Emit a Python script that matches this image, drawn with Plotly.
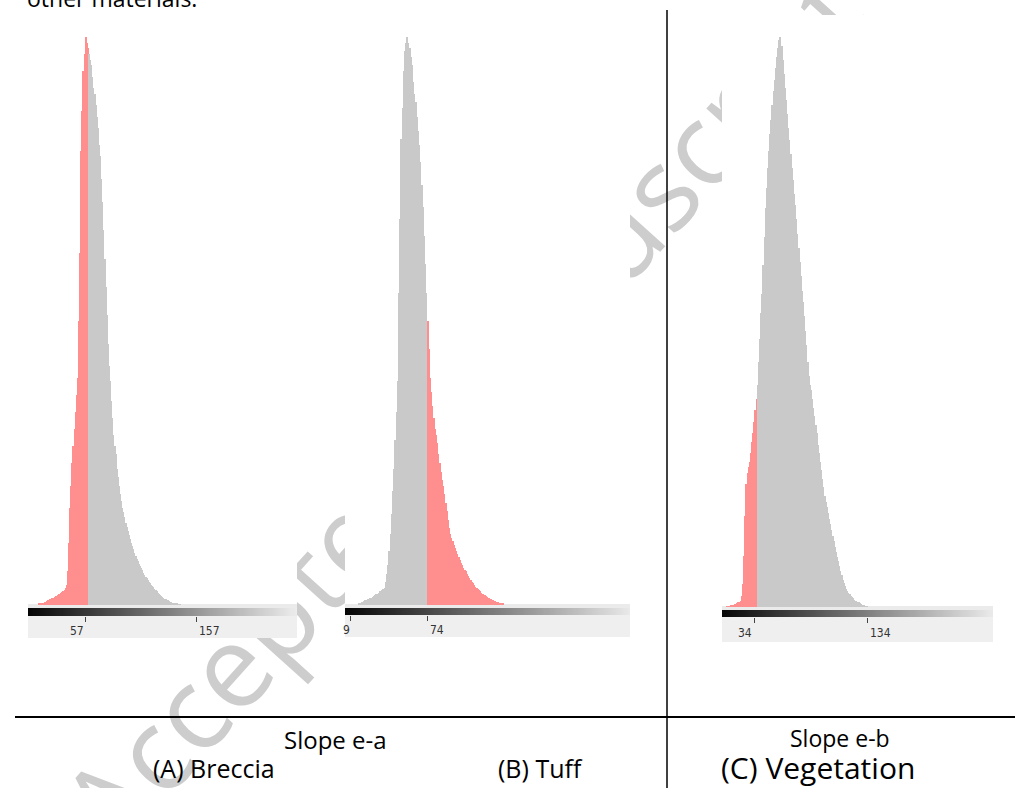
import plotly.graph_objects as go

# ---------------- data ----------------
# Histogram bins (grey level) and normalised heights (% of peak)
breccia_start = 15
breccia_heights = [
    0.2, 0.2, 0.3, 0.3, 0.4, 0.5, 0.6, 0.7, 0.8, 0.9,
    1.0, 1.1, 1.2, 1.3, 1.4, 1.5, 1.6, 1.7, 1.9, 2.0,
    2.1, 2.3, 2.4, 2.6, 3.0, 3.5, 6, 11, 17, 21,
    25, 28, 31, 34, 37, 40, 50, 62, 80, 87,
    94, 97, 100, 99, 98, 97, 96, 95, 93, 91,
    90, 88, 86, 84, 81, 79, 75, 71, 66, 61,
    56, 51, 46, 42, 39.5, 36, 33, 30, 28, 26.5,
    24, 22.5, 21, 19.5, 18.3, 17, 16.3, 15.5, 14.5, 13.8,
    13, 12.3, 11.7, 11, 10.4, 9.8, 9.2, 8.6, 8.1, 7.7,
    7.3, 6.9, 6.5, 6.1, 5.7, 5.3, 5.0, 4.7, 4.4, 4.1,
    3.8, 3.5, 3.3, 3.1, 2.8, 2.6, 2.4, 2.2, 2.0, 1.8,
    1.6, 1.4, 1.3, 1.1, 1.0, 0.9, 0.8, 0.7, 0.6, 0.5,
    0.4, 0.35, 0.3, 0.25, 0.2, 0.15, 0.1, 0.1,
]
breccia_red_max = 59          # bins <= this are highlighted
breccia_ticks = [57, 157]

tuff_start = 17
tuff_heights = [
    0.3, 0.4, 0.5, 0.6, 0.7, 0.8, 0.9, 1.0, 1.1, 1.2,
    1.3, 1.4, 1.6, 1.7, 1.9, 2.0, 2.2, 2.4, 2.5, 2.6,
    2.8, 3.0, 4.0, 5.5, 7, 9.5, 12.5, 16, 20, 24,
    29, 34, 39.5, 55, 68, 82, 87.5, 94, 97.5, 99,
    100, 99, 98, 96.5, 95, 92, 90, 88.5, 86, 83.5,
    81, 78, 74, 70, 65, 60, 55, 50, 45, 40,
    37.5, 35, 33, 31, 30, 28.5, 26.5, 25, 23.5, 22,
    21, 19.5, 18, 16.5, 15, 13.5, 12.5, 11.8, 11.2, 10.6,
    10, 9.5, 9, 8.4, 7.9, 7.4, 7, 6.6, 6.2, 5.9,
    5.5, 5.1, 4.8, 4.4, 4.1, 3.8, 3.5, 3.2, 3.0, 2.8,
    2.6, 2.4, 2.2, 2.0, 1.8, 1.7, 1.5, 1.4, 1.2, 1.1,
    1.0, 0.9, 0.8, 0.7, 0.6, 0.5, 0.45, 0.4, 0.3, 0.25, 0.2,
]
tuff_red_min = 74             # bins >= this are highlighted
tuff_ticks = [9, 74]

veg_start = 10
veg_heights = [
    0.1, 0.1, 0.15, 0.2, 0.25, 0.3, 0.4, 0.5, 0.6, 0.7,
    0.8, 0.9, 1.0, 2.0, 4.0, 9, 16, 21.5, 23.5, 24.5,
    25.5, 27, 29, 30.5, 32.5, 34.5, 36.5, 39, 43, 47,
    51.5, 55, 60, 65, 70, 73.5, 77, 80, 83, 85.5,
    88, 90.5, 92.5, 94.5, 96.5, 98, 99.5, 100, 98.5, 96,
    93.5, 91, 89, 86.5, 84, 82, 79.5, 77, 75, 72.5,
    70.5, 68, 65.5, 63, 60.5, 58, 55.5, 53.5, 51, 48.5,
    46, 43, 40.5, 39, 38, 36.5, 35, 33.5, 32, 30.5,
    28.5, 27, 25.5, 24, 22.5, 21, 19.5, 18.5, 17.5, 16.5,
    15.5, 14.5, 13.5, 12.5, 11.5, 10.5, 9.6, 8.8, 8, 7.2,
    6.4, 5.6, 4.8, 4.2, 3.7, 3.2, 2.8, 2.5, 2.2, 1.9,
    1.7, 1.5, 1.3, 1.1, 1.0, 0.9, 0.8, 0.7, 0.5, 0.4,
    0.3, 0.2, 0.15, 0.1,
]
veg_red_max = 36
veg_ticks = [34, 134]

gradient_levels = list(range(256))

header_text = "other materials."
slope_labels = ["Slope e-a", "Slope e-b"]
panel_labels = ["(A) Breccia", "(B) Tuff", "(C) Vegetation"]
watermark_text = "Accepted Manuscript"

# ---------------- styling / layout ----------------
W, H = 1015, 788
RED = "#ff8e8e"
GREY = "#c9c9c9"
FONT = "Open Sans, Lato, DejaVu Sans, sans-serif"
NARROW = "Liberation Sans Narrow, DejaVu Sans Condensed, Roboto Condensed, sans-serif"


def X(p):
    return p / W


def Y(p):
    return 1 - p / H


def bins(start, heights):
    return list(range(start, start + len(heights)))


b_bins = bins(breccia_start, breccia_heights)
t_bins = bins(tuff_start, tuff_heights)
v_bins = bins(veg_start, veg_heights)

panels = [
    dict(bins=b_bins, h=breccia_heights,
         colors=[RED if b <= breccia_red_max else GREY for b in b_bins],
         ticks=breccia_ticks, x0=28, x1=297, top=37, bot=605, g0=608, g1=616,
         band=638, rng=[5.0, 247.4], lab_y=631, lab_dx=[0, 0]),
    dict(bins=t_bins, h=tuff_heights,
         colors=[RED if b >= tuff_red_min else GREY for b in t_bins],
         ticks=tuff_ticks, x0=345, x1=630, top=37, bot=605, g0=608, g1=615,
         band=637, rng=[4.8, 243.3], lab_y=630, lab_dx=[2, 0]),
    dict(bins=v_bins, h=veg_heights,
         colors=[RED if b <= veg_red_max else GREY for b in v_bins],
         ticks=veg_ticks, x0=722, x1=993, top=37, bot=607, g0=610, g1=617,
         band=642, rng=[5.4, 244.6], lab_y=633, lab_dx=[0, 0]),
]

fig = go.Figure()
layout = dict(
    width=W, height=H, margin=dict(l=0, r=0, t=0, b=0),
    paper_bgcolor="white", plot_bgcolor="rgba(0,0,0,0)",
    showlegend=False, bargap=0,
)
shapes = []
annotations = []

# watermark (under the histogram images)
shapes.append(dict(
    type="rect", xref="paper", yref="paper",
    x0=X(416), x1=X(516), y0=Y(463), y1=Y(363),
    line=dict(width=0), fillcolor="rgba(0,0,0,0)", layer="below",
    label=dict(text=watermark_text, textangle=-48, textposition="middle center",
               font=dict(family=FONT, size=115, color="#cdcdcd")),
))
# opaque image areas of the three histogram pictures
for p in panels:
    shapes.append(dict(type="rect", xref="paper", yref="paper", layer="below",
                       x0=X(p["x0"]), x1=X(p["x1"]), y0=Y(p["band"]), y1=Y(15),
                       line=dict(width=0), fillcolor="white"))

for i, p in enumerate(panels):
    ib, ig = 2 * i + 1, 2 * i + 2
    xb = "x" if ib == 1 else f"x{ib}"
    yb = "y" if ib == 1 else f"y{ib}"
    xg, yg = f"x{ig}", f"y{ig}"
    kb = "" if ib == 1 else str(ib)

    fig.add_trace(go.Bar(x=p["bins"], y=p["h"], marker=dict(color=p["colors"], line=dict(width=0)),
                         width=1.0, xaxis=xb, yaxis=yb, hoverinfo="skip"))
    fig.add_trace(go.Heatmap(x=gradient_levels, y=[0], z=[gradient_levels], zmin=0, zmax=255,
                             colorscale=[[0, "#000000"], [1, "#f4f4f4"]], showscale=False,
                             xaxis=xg, yaxis=yg, hoverinfo="skip"))

    layout[f"xaxis{kb}"] = dict(domain=[X(p["x0"]), X(p["x1"])], range=p["rng"], visible=False,
                                anchor=yb, fixedrange=True)
    layout[f"yaxis{kb}"] = dict(domain=[Y(p["bot"]), Y(p["top"])], range=[0, 100], visible=False,
                                anchor=xb, fixedrange=True)
    layout[f"xaxis{ig}"] = dict(domain=[X(p["x0"]), X(p["x1"])], range=p["rng"], anchor=yg,
                                showgrid=False, zeroline=False, showline=False,
                                ticks="outside", ticklen=5, tickwidth=1, tickcolor="#444",
                                tickvals=p["ticks"], showticklabels=False, fixedrange=True)
    layout[f"yaxis{ig}"] = dict(domain=[Y(p["g1"]), Y(p["g0"])], range=[-0.5, 0.5], visible=False,
                                anchor=xg, fixedrange=True)

    # light strip above the gradient and grey label band below it
    shapes.append(dict(type="rect", xref="paper", yref="paper", layer="below",
                       x0=X(p["x0"]), x1=X(p["x1"]), y0=Y(p["g0"]), y1=Y(p["bot"] - 1),
                       line=dict(width=0), fillcolor="#ebebeb"))
    shapes.append(dict(type="rect", xref="paper", yref="paper", layer="below",
                       x0=X(p["x0"]), x1=X(p["x1"]), y0=Y(p["band"]), y1=Y(p["g1"]),
                       line=dict(width=0), fillcolor="#efefef"))

    for j, t in enumerate(p["ticks"]):
        annotations.append(dict(
            text=str(t), x=t, xref=xg, y=Y(p["lab_y"]), yref="paper",
            xanchor="right" if j == 0 else "left", yanchor="middle",
            xshift=p["lab_dx"][j], showarrow=False,
            font=dict(family=NARROW, size=12, color="#333333"),
        ))

# table lines
shapes.append(dict(type="line", xref="paper", yref="paper", x0=X(667), x1=X(667),
                   y0=Y(10), y1=Y(788), line=dict(color="black", width=1.5)))
shapes.append(dict(type="line", xref="paper", yref="paper", x0=X(15), x1=X(1015),
                   y0=Y(717), y1=Y(717), line=dict(color="black", width=2)))

# texts
annotations.append(dict(text=header_text, x=X(25), y=Y(16), xref="paper", yref="paper",
                        xanchor="left", yanchor="bottom", showarrow=False,
                        font=dict(family=FONT, size=23, color="black")))
text_specs = [
    (slope_labels[0], 335, 739, 24),
    (panel_labels[0], 214, 768, 25),
    (panel_labels[1], 540, 768, 25),
    (slope_labels[1], 840, 738, 23),
    (panel_labels[2], 818, 767, 30),
]
for txt, cx, cy, fs in text_specs:
    annotations.append(dict(text=txt, x=X(cx), y=Y(cy), xref="paper", yref="paper",
                            xanchor="center", yanchor="middle", showarrow=False,
                            font=dict(family=FONT, size=fs, color="black")))

layout["shapes"] = shapes
layout["annotations"] = annotations
fig.update_layout(**layout)
fig.write_html("out.html", config={"displayModeBar": False},
               post_script="document.body.style.margin='0px';")
